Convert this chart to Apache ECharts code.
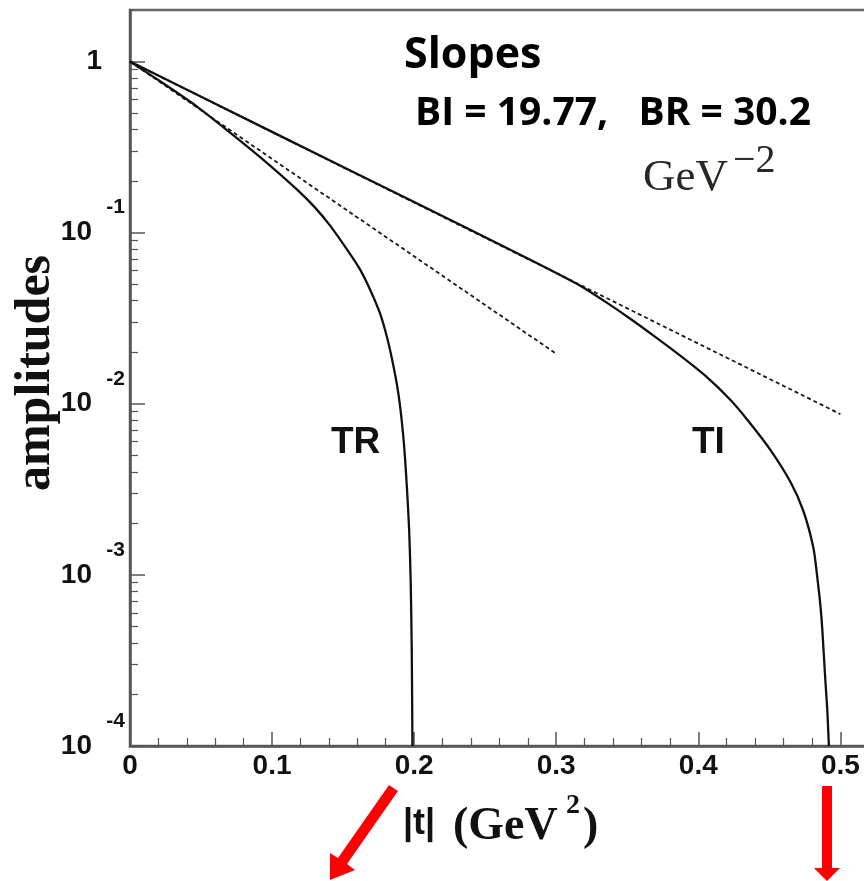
<!DOCTYPE html>
<html>
<head>
<meta charset="utf-8">
<script src="https://cdn.jsdelivr.net/npm/echarts@6/dist/echarts.min.js"></script>
<style>
  html, body { margin: 0; padding: 0; background: #ffffff; overflow: hidden; }
  /* the frame continues past the right edge of the window, so the canvas is wider than the view */
  #chart { width: 900px; height: 881px; }
</style>
</head>
<body>
<div id="chart"></div>
<script>
// |t| values (GeV^2) and amplitudes of the imaginary-part curve TI
const tiT   = [0, 0.1, 0.2, 0.2817, 0.3169, 0.3345, 0.3521, 0.3697, 0.3873, 0.4049, 0.4225, 0.4345, 0.4507, 0.4648, 0.4739, 0.481, 0.4838, 0.4859, 0.4873, 0.4894, 0.4908, 0.4919];
const tiAmp = [1, 0.388, 0.151, 0.0695, 0.049, 0.0395, 0.0314, 0.0246, 0.0191, 0.01458, 0.01055, 0.00806, 0.00538, 0.0035, 0.00237, 0.00144, 0.000961, 0.000668, 0.000477, 0.000243, 0.000162, 0.0001];

// |t| values and amplitudes of the real-part curve TR
const trT   = [0, 0.02465, 0.04718, 0.07042, 0.09366, 0.11761, 0.13028, 0.14085, 0.15282, 0.16197, 0.16901, 0.17606, 0.18099, 0.18451, 0.18803, 0.19014, 0.19225, 0.19366, 0.19507, 0.19648, 0.19754, 0.19831, 0.1988];
const trAmp = [1, 0.7337, 0.5454, 0.3844, 0.2673, 0.1784, 0.14, 0.1099, 0.0795, 0.0608, 0.0464, 0.0336, 0.0243, 0.0181, 0.01274, 0.00961, 0.00659, 0.0047, 0.00306, 0.00183, 0.000935, 0.000364, 0.0001];

// pure exponential slopes (dashed), BI and BR
const slopeIT   = [0, 0.5];
const slopeIAmp = [1, 0.0087];
const slopeRT   = [0, 0.3];
const slopeRAmp = [1, 0.0196];

// axis ticks and labels
const xMajor = [0, 0.1, 0.2, 0.3, 0.4, 0.5];
const xTickLabels = ['0', '0.1', '0.2', '0.3', '0.4', '0.5'];
const xMinor = [0.02, 0.04, 0.06, 0.08, 0.12, 0.14, 0.16, 0.18, 0.22, 0.24, 0.26, 0.28,
                0.32, 0.34, 0.36, 0.38, 0.42, 0.44, 0.46, 0.48, 0.52];
const yMajor = [0.0001, 0.001, 0.01, 0.1, 1];
const yBaseLabels = ['10', '10', '10', '10', '1'];
const yExpLabels = ['-4', '-3', '-2', '-1', ''];
const yMinor = [];
[0.0001, 0.001, 0.01, 0.1].forEach(function (d) {
  [2, 3, 4, 5, 6, 7, 8, 9].forEach(function (m) { yMinor.push(+(m * d).toPrecision(3)); });
});

function pairs(xs, ys) { return xs.map(function (x, i) { return [x, ys[i]]; }); }
function indexOfLog(list, v) {
  for (let i = 0; i < list.length; i++) {
    if (Math.abs(Math.log10(list[i]) - Math.log10(v)) < 1e-6) return i;
  }
  return -1;
}
function indexOfLin(list, v) {
  for (let i = 0; i < list.length; i++) {
    if (Math.abs(list[i] - v) < 1e-6) return i;
  }
  return -1;
}

const frameColor = '#555555';
const curveColor = '#111111';

const chart = echarts.init(document.getElementById('chart'), null, { renderer: 'canvas' });

const option = {
  animation: false,
  backgroundColor: '#ffffff',
  grid: {
    left: 130, top: 10, width: 753, height: 736,
    show: true, borderColor: '#666666', borderWidth: 2.5, backgroundColor: 'transparent'
  },
  xAxis: [{
    type: 'value', min: 0, max: 0.53, interval: 0.1,
    axisLine: { show: true, lineStyle: { color: frameColor, width: 2.5 } },
    axisTick: { show: true, inside: true, length: 14, customValues: xMajor, lineStyle: { color: frameColor, width: 1.5 } },
    axisLabel: {
      customValues: xMajor, margin: 6, fontSize: 28, color: '#111',
      fontFamily: 'Liberation Sans', fontWeight: 'bold',
      formatter: function (v) { const i = indexOfLin(xMajor, v); return i >= 0 ? xTickLabels[i] : ''; }
    },
    splitLine: { show: false }
  }, {
    type: 'value', min: 0, max: 0.53, position: 'bottom',
    axisLine: { show: false },
    axisTick: { show: true, inside: true, length: 8, customValues: xMinor, lineStyle: { color: frameColor, width: 1.2 } },
    axisLabel: { show: false },
    splitLine: { show: false }
  }],
  yAxis: [{
    // minor ticks and the "10" / "1" parts of the labels
    type: 'log', logBase: 10, min: 0.0001, max: 2,
    axisLine: { show: true, lineStyle: { color: frameColor, width: 2.5 } },
    axisTick: { show: true, inside: true, length: 8, customValues: yMinor, lineStyle: { color: frameColor, width: 1.2 } },
    axisLabel: {
      customValues: yMajor, margin: 28, color: '#111',
      formatter: function (v) {
        const i = indexOfLog(yMajor, v);
        if (i < 0) return '';
        return yBaseLabels[i] === '1' ? '{one|1}' : '{ten|' + yBaseLabels[i] + '}';
      },
      rich: {
        one: { fontSize: 28, fontFamily: 'Liberation Sans', fontWeight: 'bold', color: '#111' },
        ten: { fontSize: 28, fontFamily: 'Liberation Sans', fontWeight: 'bold', color: '#111', padding: [0, 10, 0, 0] }
      }
    },
    splitLine: { show: false }
  }, {
    // major ticks and the exponents
    type: 'log', logBase: 10, min: 0.0001, max: 2, position: 'left', offset: 0,
    axisLine: { show: false },
    axisTick: { show: true, inside: true, length: 15, customValues: yMajor, lineStyle: { color: frameColor, width: 1.5 } },
    axisLabel: {
      customValues: yMajor.slice(0, 4), margin: 5, color: '#111',
      formatter: function (v) { const i = indexOfLog(yMajor, v); return i >= 0 ? '{e|' + yExpLabels[i] + '}' : ''; },
      rich: {
        e: { fontSize: 21, fontFamily: 'Liberation Sans', fontWeight: 'bold', color: '#111', padding: [0, 0, 50, 0] }
      }
    },
    splitLine: { show: false }
  }],
  series: [{
    name: 'BI slope', type: 'line', xAxisIndex: 0, yAxisIndex: 0,
    data: pairs(slopeIT, slopeIAmp), showSymbol: false,
    lineStyle: { color: '#1a1a1a', width: 1.8, type: [4, 3] }
  }, {
    name: 'BR slope', type: 'line', xAxisIndex: 0, yAxisIndex: 0,
    data: pairs(slopeRT, slopeRAmp), showSymbol: false,
    lineStyle: { color: '#1a1a1a', width: 1.8, type: [4, 3] }
  }, {
    name: 'TI', type: 'line', xAxisIndex: 0, yAxisIndex: 0,
    data: pairs(tiT, tiAmp), showSymbol: false, smooth: 0.25,
    lineStyle: { color: curveColor, width: 2.3 }
  }, {
    name: 'TR', type: 'line', xAxisIndex: 0, yAxisIndex: 0,
    data: pairs(trT, trAmp), showSymbol: false, smooth: 0.25,
    lineStyle: { color: curveColor, width: 2.3 }
  }],
  graphic: [
    { type: 'text', left: 404, top: 34, style: { text: 'Slopes', font: 'bold 43px "Open Sans"', fill: '#000' } },
    { type: 'text', left: 415, top: 94, style: { text: 'BI = 19.77,   BR = 30.2', font: 'bold 39px "Open Sans"', fill: '#000' } },
    { type: 'text', left: 643, top: 156, style: { text: 'GeV', font: '45px "Liberation Serif"', fill: '#2a2622' } },
    { type: 'text', left: 733, top: 141, style: { text: '\u22122', font: '40px "Liberation Serif"', fill: '#2a2622' } },
    { type: 'text', left: 331, top: 424, style: { text: 'TR', font: 'bold 37px "Liberation Sans"', fill: '#111' } },
    { type: 'text', left: 692, top: 424, style: { text: 'TI', font: 'bold 37px "Liberation Sans"', fill: '#111' } },
    {
      type: 'text', x: 36, y: 373, rotation: Math.PI / 2,
      style: { text: 'amplitudes', font: 'bold 50px "Liberation Serif"', fill: '#111', align: 'center', verticalAlign: 'middle' }
    },
    { type: 'text', left: 403, top: 806, style: { text: '|t|', font: 'bold 36px "Liberation Sans"', fill: '#111' } },
    { type: 'text', left: 453, top: 804, style: { text: '(GeV', font: 'bold 46px "Liberation Serif"', fill: '#111' } },
    { type: 'text', left: 566, top: 792, style: { text: '2', font: 'bold 28px "Liberation Serif"', fill: '#111' } },
    { type: 'text', left: 583, top: 804, style: { text: ')', font: 'bold 46px "Liberation Serif"', fill: '#111' } },
    // red arrow pointing down-left below 0.2
    {
      type: 'polygon',
      shape: { points: [[389, 785], [398, 791], [347, 864], [355, 870], [330, 880], [330, 853], [338, 858]] },
      style: { fill: '#ff0000' }
    },
    // red arrow pointing straight down below 0.5
    {
      type: 'polygon',
      shape: { points: [[822, 786], [832, 786], [832, 868], [840, 868], [827, 881], [814, 868], [822, 868]] },
      style: { fill: '#ff0000' }
    }
  ]
};

chart.setOption(option);
</script>
</body>
</html>
